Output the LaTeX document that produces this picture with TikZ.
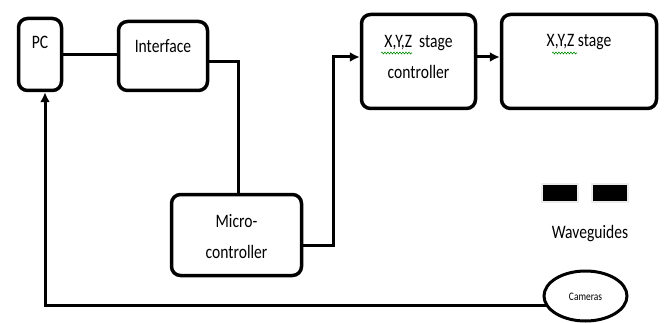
\documentclass[tikz,border=0pt]{standalone}
\usepackage{fontspec}
\setmainfont{Carlito}[FakeStretch=0.82]
\usepackage{tikz}
\usetikzlibrary{shapes,arrows,arrows.meta,positioning,decorations.pathmorphing}
\tikzstyle{block} = [draw, rectangle, rounded corners=9pt, line width=3.5pt,
    fill=white, inner sep=0pt]
\tikzstyle{cloud} = [draw, ellipse, line width=3pt, fill=white, inner sep=0pt]
\tikzstyle{txt} = [inner sep=0pt, anchor=base, align=center, font=\fontsize{19}{31}\selectfont]
\tikzstyle{wire} = [line width=3pt]
\tikzstyle{arr} = [line width=3pt, -{Latex[length=10pt,width=10pt]}]
\tikzstyle{guide} = [draw=black!8, line width=1.5pt, fill=black, minimum width=36pt,
    minimum height=18pt, inner sep=0pt]
\tikzstyle{squiggle} = [green!55!black, line width=0.6pt,
    decorate, decoration={snake, amplitude=0.9pt, segment length=3pt}]

\begin{document}
\begin{tikzpicture}[x=1pt, y=-1pt, node distance = 3cm]
  \useasboundingbox (0,0) rectangle (668,323);
  \node [block, minimum width=43pt, minimum height=72pt,
    label={[txt, anchor=base, yshift=-31.5pt]north:PC}] (pc) at (40,54.5) {};
  \node [block, minimum width=89pt, minimum height=69pt,
    label={[txt, anchor=base, yshift=-32.5pt]north:Interface}] (iface) at (163,56) {};
  \node [block, minimum width=130pt, minimum height=81pt,
    label={[txt, anchor=base, yshift=-65.5pt]north:Micro-\\controller}] (micro) at (236.5,235) {};
  \node [block, minimum width=114pt, minimum height=94pt,
    label={[txt, anchor=base, yshift=-65.5pt]north:X,Y,Z\ \ stage\\controller}] (ctrl) at (418.5,61.5) {};
  \node [block, minimum width=155pt, minimum height=94pt,
    label={[txt, anchor=base, yshift=-34pt]north:X,Y,Z stage}] (stage) at (579,61.5) {};
  \node [cloud, minimum width=83pt, minimum height=50pt] (cams) at (585.5,296) {};
  \node [txt, font=\fontsize{11.5}{14}\selectfont] (camtxt) at (585.5,300) {Cameras};
  \node [guide] (wg1) at (560,193) {};
  \node [guide, right of=wg1, node distance=50pt] (wg2) {};
  \node [txt] (wgtxt) at (590,238) {Waveguides};
  % spell-check marks
  \draw [squiggle] (381,53) -- (412,53);
  \draw [squiggle] (552,53) -- (577,53);
  % connections
  \draw [wire] (pc.east) -- (pc.east -| iface.west);
  \draw [wire] ([yshift=-6pt]iface.east) -| ([xshift=1.5pt]micro.north);
  \draw [arr] ([yshift=-10pt]micro.east) -- ++(30,0) |- ([yshift=4.5pt]ctrl.west);
  \draw [arr] ([yshift=4.5pt]ctrl.east) -- ([yshift=4.5pt]stage.west);
  \draw [arr] (cams.194) -| ([xshift=5pt]pc.south);
\end{tikzpicture}
\end{document}
